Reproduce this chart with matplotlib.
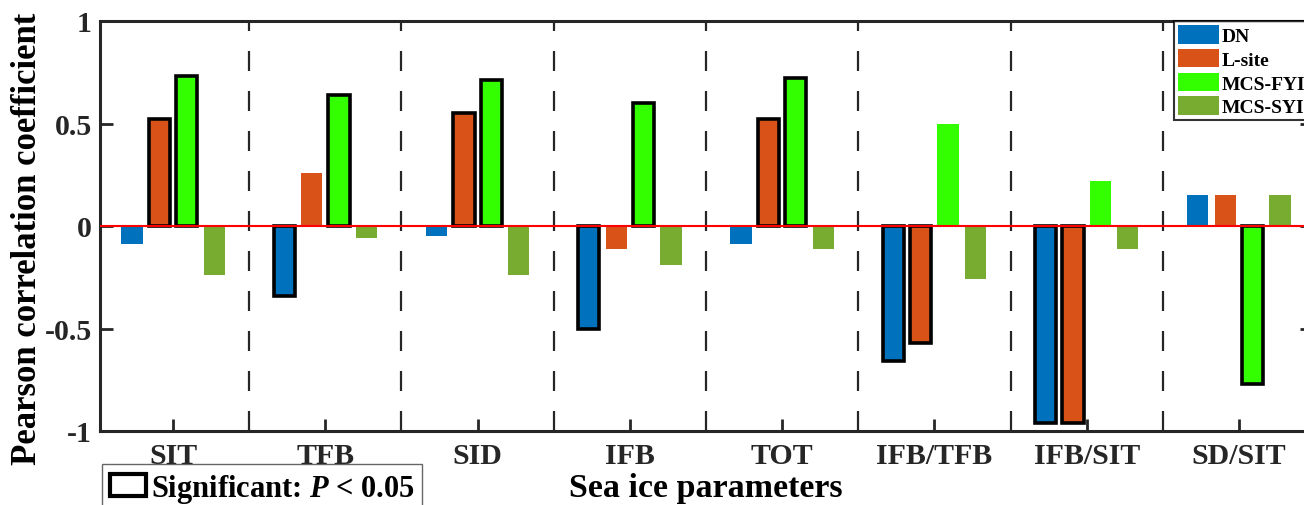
import matplotlib
matplotlib.use("Agg")
from matplotlib import pyplot as plt, patches
import numpy as np

plt.rcParams['font.family'] = ['Liberation Serif', 'DejaVu Serif']
plt.rcParams['font.weight'] = 'bold'
plt.rcParams['mathtext.fontset'] = 'custom'
plt.rcParams['mathtext.rm'] = 'Liberation Serif:bold'
plt.rcParams['mathtext.it'] = 'Liberation Serif:italic:bold'
plt.rcParams['mathtext.bf'] = 'Liberation Serif:bold'

# Data
params = ['SIT', 'TFB', 'SID', 'IFB', 'TOT', 'IFB/TFB', 'IFB/SIT', 'SD/SIT']
series = ['DN', 'L-site', 'MCS-FYI', 'MCS-SYI']
dn = [-0.09, -0.34, -0.05, -0.50, -0.09, -0.66, -0.96, 0.15]
lsite = [0.52, 0.26, 0.55, -0.11, 0.52, -0.57, -0.96, 0.15]
fyi = [0.73, 0.64, 0.71, 0.60, 0.72, 0.50, 0.22, -0.77]
syi = [-0.24, -0.06, -0.24, -0.19, -0.11, -0.26, -0.11, 0.15]
# significance flags (P < 0.05)
sig_dn = [0, 1, 0, 1, 0, 1, 1, 0]
sig_lsite = [1, 0, 1, 0, 1, 1, 1, 0]
sig_fyi = [1, 1, 1, 1, 1, 0, 0, 1]
sig_syi = [0, 0, 0, 0, 0, 0, 0, 0]

colors = ['#0072BD', '#D95319', '#33FF00', '#77AC30']

fig = plt.figure(figsize=(13.04, 5.06), dpi=100)
ax = fig.add_axes([100 / 1304, 1 - 432 / 506, (1312 - 100) / 1304, (432 - 22) / 506])

x = np.arange(1, len(params) + 1)
offsets = [-0.27, -0.09, 0.09, 0.27]
width = 0.14
handles = []
for vals, sig, col, off, name in zip([dn, lsite, fyi, syi],
                                     [sig_dn, sig_lsite, sig_fyi, sig_syi],
                                     colors, offsets, series):
    bars = ax.bar(x + off, vals, width, color=col, edgecolor='none', zorder=3, label=name)
    for b, s in zip(bars, sig):
        if s:
            b.set_edgecolor('black')
            b.set_linewidth(2.6)
    handles.append(patches.Patch(facecolor=col, edgecolor='none', label=name))

# zero line and group separators
ax.axhline(0, color='red', lw=1.5, zorder=4)
for xs in np.arange(1.5, len(params), 1):
    ax.axvline(xs, color='#262626', lw=1.6, ls=(0, (9, 9)), zorder=2)

ax.set_xlim(0.52, 8.48)
ax.set_ylim(-1, 1)
ax.set_xticks(x)
ax.set_xticklabels(params)
ax.set_yticks([-1, -0.5, 0, 0.5, 1])
ax.set_yticklabels(['-1', '-0.5', '0', '0.5', '1'])
ax.tick_params(axis='both', direction='in', length=9, width=2, labelsize=21.5,
               colors='#262626', labelcolor='#262626')
ax.tick_params(axis='y', right=True, pad=6)
ax.tick_params(axis='x', pad=8)
for sp in ax.spines.values():
    sp.set_linewidth(2.2)
    sp.set_color('#262626')

ax.set_ylabel('Pearson correlation coefficient', fontsize=25, fontweight='bold')
ax.yaxis.set_label_coords(-0.046, 0.472)
ax.set_xlabel('Sea ice parameters', fontsize=24.5, fontweight='bold', labelpad=2)

# series legend
leg = fig.legend(handles=handles, loc='upper left',
                 bbox_to_anchor=(1174 / 1304, 1 - 22 / 506),
                 fontsize=14, frameon=True, fancybox=False,
                 handlelength=2.1, handleheight=1.1, handletextpad=0.15,
                 labelspacing=0.2, borderpad=0.2, borderaxespad=0)
leg.get_frame().set_edgecolor('black')
leg.get_frame().set_linewidth(1.5)

# significance key
key = fig.legend(handles=[patches.Patch(facecolor='white', edgecolor='black', lw=3)],
                 labels=['Significant: $P$ < 0.05'], loc='upper left',
                 bbox_to_anchor=(102 / 1304, 1 - 465 / 506),
                 fontsize=22, frameon=True, fancybox=False,
                 handlelength=1.2, handleheight=0.75, handletextpad=0.15,
                 borderpad=0.25, borderaxespad=0)
key.get_frame().set_edgecolor('#404040')
key.get_frame().set_linewidth(1.0)

fig.savefig('out.png', dpi=100)
